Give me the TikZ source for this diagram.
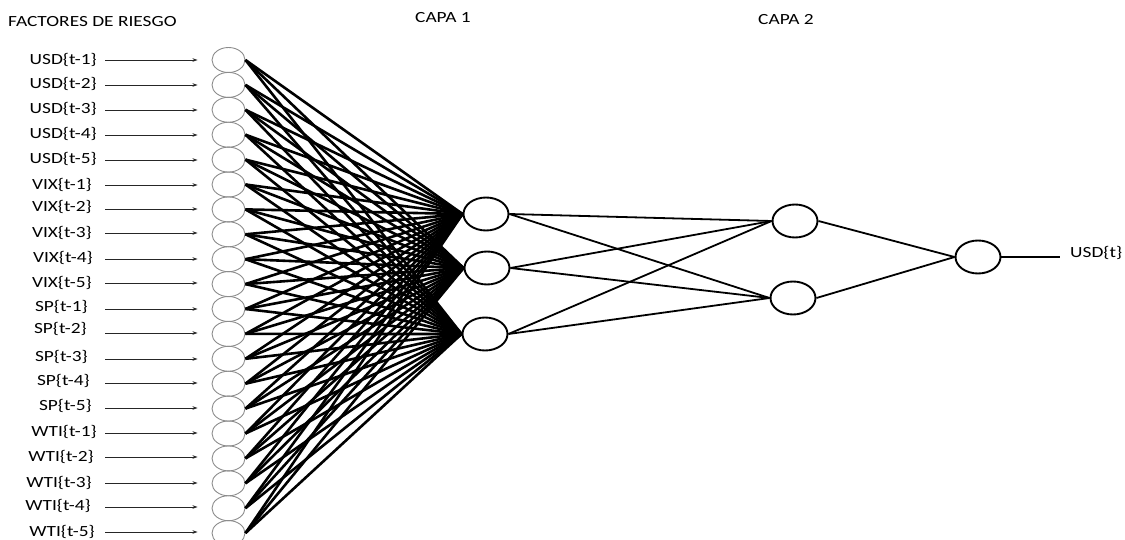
\documentclass[tikz,border=0pt]{standalone}
\usepackage{fontspec}
\setmainfont{Carlito}[FakeStretch=1.25]
\usetikzlibrary{shapes.geometric,arrows.meta}
\begin{document}
\begin{tikzpicture}[x=1pt,y=-1pt,
  every node/.style={font=\fontsize{15.5}{18}\selectfont},
  lbl/.style={anchor=east,inner sep=0pt},
  ttl/.style={anchor=west,inner sep=0pt},
  inneuron/.style={ellipse,draw=black!45,line width=0.9pt,minimum width=33pt,minimum height=25pt,inner sep=0pt},
  neuron/.style={ellipse,draw=black,line width=1.9pt,minimum width=45pt,minimum height=33pt,inner sep=0pt},
  feed/.style={draw=black!85,line width=0.9pt,-{Stealth[length=5pt,width=3.5pt]},shorten >=14pt},
  wire/.style={draw=black,line width=2.6pt},
  link/.style={draw=black,line width=1.8pt}]
\useasboundingbox (0,0) rectangle (1125,540);

% titles
\node[ttl] (tf) at (8,22) {FACTORES DE RIESGO};
\node[ttl] (t1) at (415,18) {CAPA 1};
\node[ttl] (t2) at (758,20) {CAPA 2};

% input layer: label, feeding arrow and neuron
\foreach \i/\txt/\rx/\ty/\ay in {
  1/USD\{t-1\}/97/60/60, 2/USD\{t-2\}/97/84/85, 3/USD\{t-3\}/97/109/110,
  4/USD\{t-4\}/97/134/135, 5/USD\{t-5\}/97/159/160,
  6/VIX\{t-1\}/92/185/185, 7/VIX\{t-2\}/92/207/209, 8/VIX\{t-3\}/92/233/233,
  9/VIX\{t-4\}/93/258/259, 10/VIX\{t-5\}/92/283/283,
  11/SP\{t-1\}/88/307/309, 12/SP\{t-2\}/87/329/333, 13/SP\{t-3\}/88/357/359,
  14/SP\{t-4\}/90/381/383, 15/SP\{t-5\}/92/406/408,
  16/WTI\{t-1\}/97/432/433, 17/WTI\{t-2\}/94/457/457, 18/WTI\{t-3\}/92/483/483,
  19/WTI\{t-4\}/91/506/507, 20/WTI\{t-5\}/95/532/532}{
  \node[lbl] (l\i) at (\rx,\ty) {\txt};
  \node[inneuron] (in\i) at (228.5,{60+24.9*(\i-1)}) {};
  \coordinate (s\i) at (105,\ay);
  \draw[feed] (s\i) -- (in\i.west |- s\i);
}

% hidden layer 1
\node[neuron] (h1) at (486,214) {};
\node[neuron] (h2) at (487,268) {};
\node[neuron] (h3) at (485,334) {};

% hidden layer 2
\node[neuron] (k1) at (795,221) {};
\node[neuron] (k2) at (793,298) {};

% output neuron
\node[neuron] (o) at (978,257) {};
\coordinate (oe) at (1060,257);
\node[anchor=west,inner sep=0pt] (ol) at (1070,253) {USD\{t\}};

% fully connected input -> layer 1
\foreach \i in {1,...,20}{
  \foreach \h in {h1,h2,h3}{
    \draw[wire] (in\i.east) -- (\h.west);
  }
}

% layer 1 -> layer 2
\foreach \h in {h1,h2,h3}{
  \foreach \k in {k1,k2}{
    \draw[link] (\h.east) -- (\k.west);
  }
}

% layer 2 -> output
\draw[link] (k1.east) -- (o.west);
\draw[link] (k2.east) -- (o.west);
\draw[link] (o.east) -- (oe);
\end{tikzpicture}
\end{document}
